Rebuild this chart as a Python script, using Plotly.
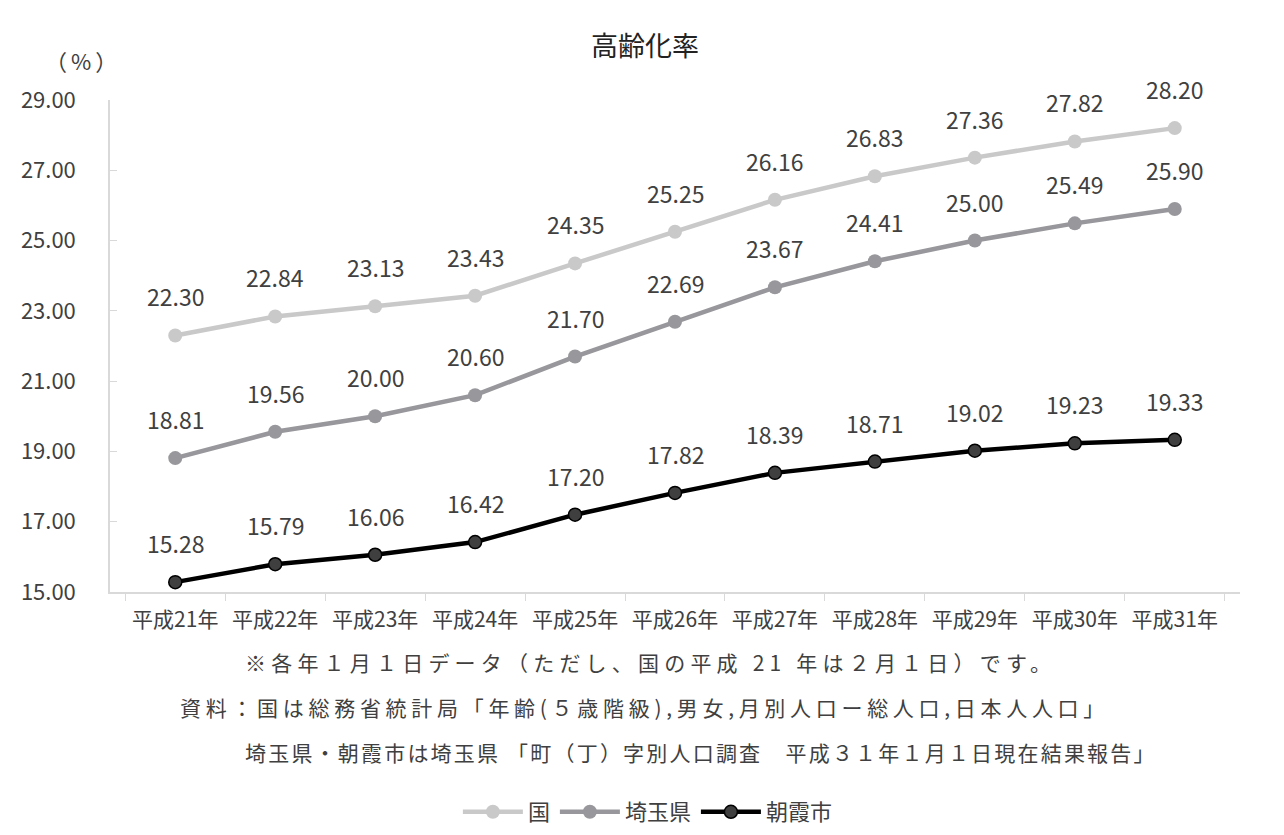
import plotly.graph_objects as go

categories = ["平成21年", "平成22年", "平成23年", "平成24年", "平成25年", "平成26年",
              "平成27年", "平成28年", "平成29年", "平成30年", "平成31年"]
kuni = [22.30, 22.84, 23.13, 23.43, 24.35, 25.25, 26.16, 26.83, 27.36, 27.82, 28.20]
saitama = [18.81, 19.56, 20.00, 20.60, 21.70, 22.69, 23.67, 24.41, 25.00, 25.49, 25.90]
asaka = [15.28, 15.79, 16.06, 16.42, 17.20, 17.82, 18.39, 18.71, 19.02, 19.23, 19.33]
series_names = ["国", "埼玉県", "朝霞市"]
y_ticks = [15, 17, 19, 21, 23, 25, 27, 29]

title_text = "高齢化率"
unit_text = "（%）"
notes = [
    "※各年１月１日データ（ただし、国の平成 21 年は２月１日）です。",
    "資料：国は総務省統計局「年齢(５歳階級),男女,月別人口ー総人口,日本人人口」",
    "埼玉県・朝霞市は埼玉県 「町（丁）字別人口調査　平成３１年１月１日現在結果報告」",
]

FONT = "Noto Sans CJK JP"
TXT = "#404040"

styles = [
    dict(line=dict(color="#c9c9c9", width=4.5), marker=dict(color="#c9c9c9", size=14)),
    dict(line=dict(color="#97979c", width=4.5), marker=dict(color="#97979c", size=14)),
    dict(line=dict(color="#000000", width=4.5),
         marker=dict(color="#3f3f3f", size=13, line=dict(color="#000000", width=1.5))),
]

fig = go.Figure()
for name, vals, st in zip(series_names, [kuni, saitama, asaka], styles):
    fig.add_trace(go.Scatter(x=categories, y=vals, name=name, mode="lines+markers",
                             line=st["line"], marker=st["marker"]))

annotations = []
for vals in [kuni, saitama, asaka]:
    for c, v in zip(categories, vals):
        annotations.append(dict(x=c, y=v, xref="x", yref="y", text=f"{v:.2f}",
                                showarrow=False, yshift=39, xanchor="center",
                                font=dict(family=FONT, size=23, color=TXT)))

annotations.append(dict(x=(83 - 110) / 1130, y=(592 - 60) / 492, xref="paper", yref="paper",
                        text=f'<span style="letter-spacing:4px">{unit_text}</span>',
                        showarrow=False, xanchor="center", yanchor="middle",
                        font=dict(family=FONT, size=22, color=TXT)))
# notes: (left x in px, y in px, letter spacing)
note_pos = [(243, 662, 5.2), (178, 707, 4.7), (243, 752, 2.2)]
for t, (px, py, ls) in zip(notes, note_pos):
    annotations.append(dict(x=(px - 110) / 1130, y=(592 - py) / 492, xref="paper", yref="paper",
                            text=f'<span style="letter-spacing:{ls}px">{t}</span>',
                            showarrow=False, xanchor="left", yanchor="middle",
                            font=dict(family=FONT, size=21, color=TXT)))

fig.update_layout(
    width=1276, height=827,
    margin=dict(l=102, r=44, t=92, b=243, autoexpand=False),
    paper_bgcolor="white", plot_bgcolor="white",
    title=dict(text=title_text, x=(645 - 8) / 1276, xanchor="center", y=1 - 39 / 827,
               yanchor="middle", font=dict(family=FONT, size=27, color="#222222")),
    font=dict(family=FONT, color=TXT),
    showlegend=True,
    legend=dict(orientation="h", x=0.476, xanchor="center", y=(592 - 812) / 492,
                yanchor="middle", font=dict(family=FONT, size=22, color=TXT), itemwidth=60),
    xaxis=dict(type="category", showline=True, linecolor="#d9d9d9", linewidth=1.5,
               ticks="outside", tickson="boundaries", ticklen=7, tickcolor="#d9d9d9",
               showgrid=False, ticklabelstandoff=8,
               tickfont=dict(family=FONT, size=21, color=TXT)),
    yaxis=dict(range=[15, 29], tickvals=y_ticks, tickformat=".2f", showline=True,
               linecolor="#d9d9d9", linewidth=1.5, ticks="inside", ticklen=7,
               tickcolor="#d9d9d9", showgrid=False, zeroline=False, ticklabelstandoff=28,
               tickfont=dict(family=FONT, size=22, color=TXT)),
    annotations=annotations,
    shapes=[dict(type="rect", xref="paper", yref="paper",
                 x0=(7 - 110) / 1130, x1=(1278 - 110) / 1130,
                 y0=(592 - 900) / 492, y1=(592 - 7) / 492,
                 line=dict(color="#d9d9d9", width=1.5))],
)

fig.write_html("out.html")
